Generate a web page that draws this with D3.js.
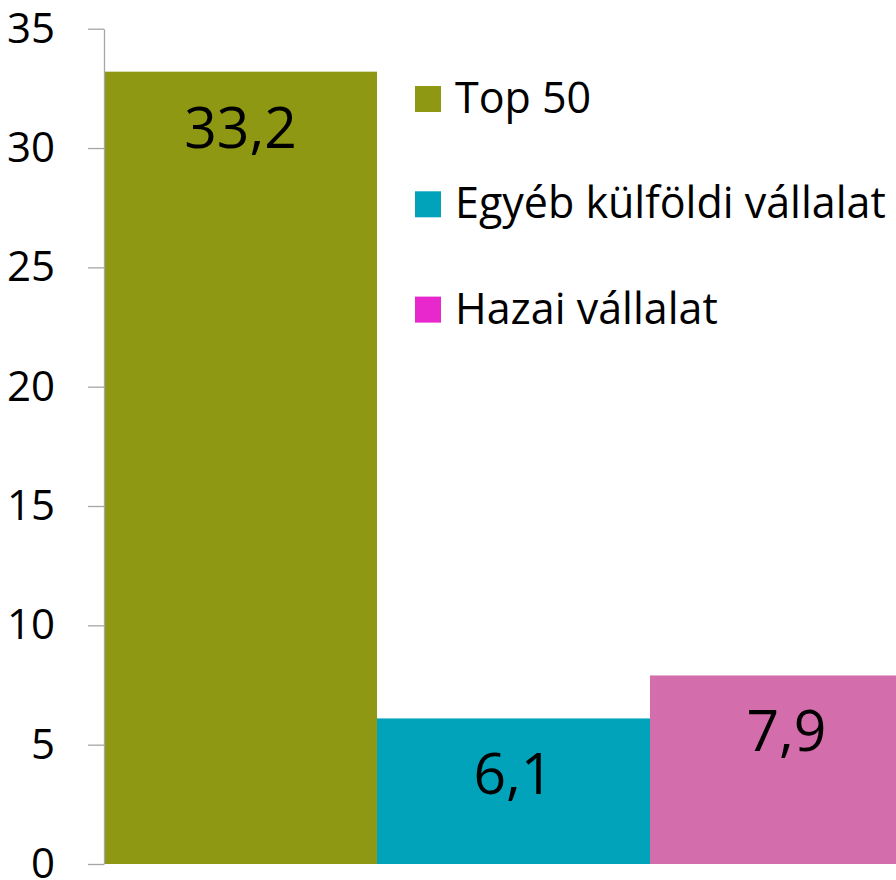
<!DOCTYPE html>
<html>
<head>
<meta charset="utf-8">
<script src="https://cdn.jsdelivr.net/npm/d3@7"></script>
<style>
  body { margin: 0; background: #fff; }
  svg { display: block; font-family: "Open Sans", sans-serif; }
</style>
</head>
<body>
<svg id="chart"></svg>
<script>
// data
var categories = ["Top 50", "Egyéb külföldi vállalat", "Hazai vállalat"];
var values = [33.2, 6.1, 7.9];
var barColors = ["#8f9812", "#00a3b9", "#d36dab"];
var legendColors = ["#8f9812", "#00a3b9", "#e828cc"];
var yTicks = [0, 5, 10, 15, 20, 25, 30, 35];

var width = 896, height = 880;

var svg = d3.select("#chart")
        .attr("width", width)
        .attr("height", height);

// plot area runs past the right edge, the last bar gets cut off like in the source
var x = d3.scaleBand()
        .domain(categories)
        .range([104, 923])
        .padding(0);

var y = d3.scaleLinear()
        .domain([0, 35])
        .range([864, 28.7]);

var fmt = function (v) { return d3.format(".1f")(v).replace(".", ","); };

// bars
svg.selectAll(".bar")
        .data(values)
        .enter().append("rect")
        .attr("class", "bar")
        .attr("x", function (d, i) { return x(categories[i]); })
        .attr("y", function (d) { return y(d); })
        .attr("width", x.bandwidth())
        .attr("height", function (d) { return y(0) - y(d); })
        .attr("fill", function (d, i) { return barColors[i]; });

// value labels, inside end
svg.selectAll(".val")
        .data(values)
        .enter().append("text")
        .attr("class", "val")
        .attr("x", function (d, i) { return x(categories[i]) + x.bandwidth() / 2; })
        .attr("y", function (d) { return y(d) + 76; })
        .attr("text-anchor", "middle")
        .style("font-size", "57px")
        .style("fill", "#000")
        .text(fmt);

// y axis
var yAxis = svg.append("g")
        .attr("transform", "translate(104,0)")
        .call(d3.axisLeft(y).tickValues(yTicks).tickSize(16).tickPadding(33).tickSizeOuter(0));

yAxis.select(".domain").attr("stroke", "#a6a6a6").attr("stroke-width", 1.3);
yAxis.selectAll(".tick line").attr("stroke", "#a6a6a6").attr("stroke-width", 1.3);
yAxis.selectAll(".tick text")
        .style("font-size", "42px")
        .style("font-family", "'Open Sans', sans-serif")
        .attr("fill", "#000");

// legend
var legend = svg.append("g").attr("class", "legend");
var items = legend.selectAll("g")
        .data(categories)
        .enter().append("g")
        .attr("transform", function (d, i) { return "translate(415," + (86 + i * 105.3) + ")"; });

items.append("rect")
        .attr("width", 26)
        .attr("height", 26)
        .attr("fill", function (d, i) { return legendColors[i]; });

items.append("text")
        .attr("x", 40)
        .attr("y", 27)
        .style("font-size", "43px")
        .style("fill", "#000")
        .text(function (d) { return d; });
</script>
</body>
</html>
